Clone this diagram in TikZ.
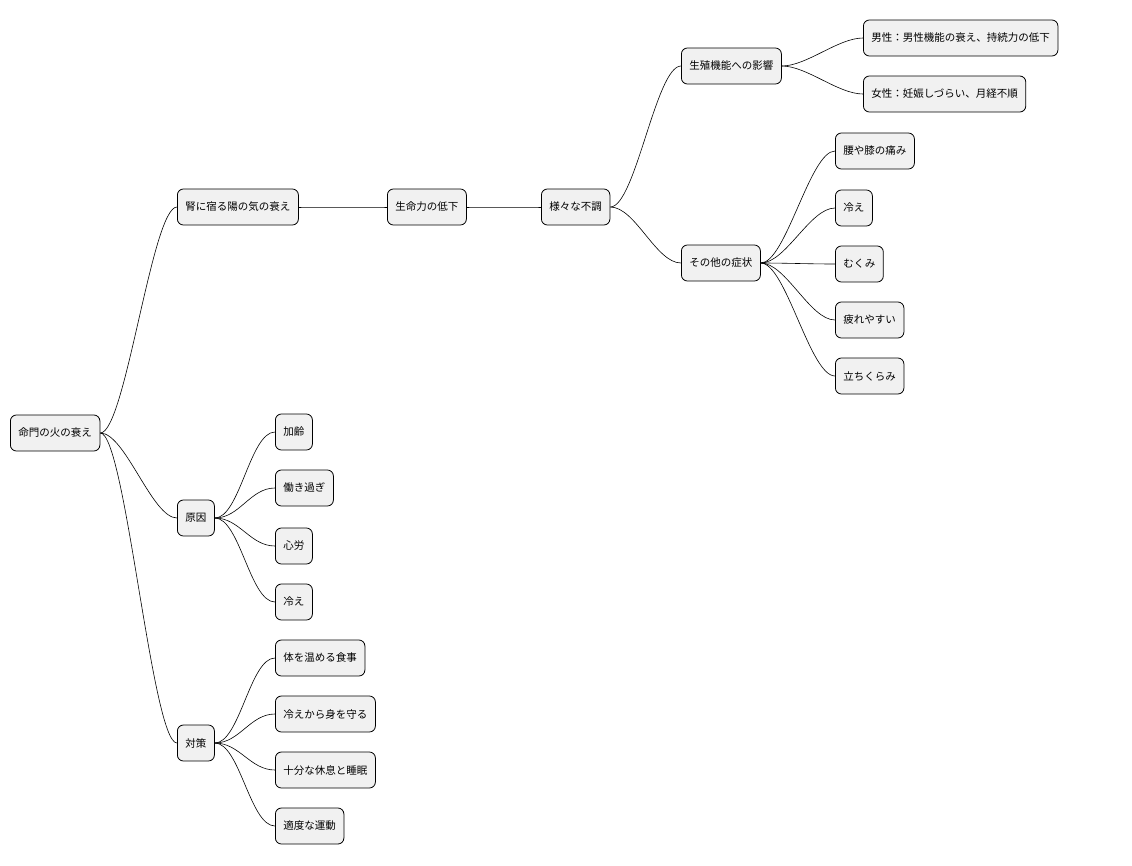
\documentclass[tikz,border=0pt]{standalone}
\usepackage{fontspec}
\newfontfamily\cjk{Noto Sans CJK JP}
\definecolor{boxfill}{HTML}{F1F1F1}
\begin{document}
\begin{tikzpicture}[x=1pt,y=-1pt,
  box/.style={draw=black,line width=0.8pt,fill=boxfill,rounded corners=6pt,font=\cjk\fontsize{10.5}{12}\selectfont,minimum height=36pt,inner xsep=8pt,anchor=west},
  conn/.style={line width=0.6pt}]
\useasboundingbox (0,0) rectangle (1132,865);
\node[box] (root) at (10,433) {命門の火の衰え};
\node[box] (jin) at (177,207) {腎に宿る陽の気の衰え};
\node[box] (sei) at (387,207) {生命力の低下};
\node[box] (sama) at (541,207) {様々な不調};
\node[box] (seisyoku) at (681,66) {生殖機能への影響};
\node[box] (male) at (863,38) {男性：男性機能の衰え、持続力の低下};
\node[box] (female) at (863,94) {女性：妊娠しづらい、月経不順};
\node[box] (other) at (681,263) {その他の症状};
\node[box] (o1) at (835,151) {腰や膝の痛み};
\node[box] (o2) at (835,208) {冷え};
\node[box] (o3) at (835,264) {むくみ};
\node[box] (o4) at (835,320) {疲れやすい};
\node[box] (o5) at (835,376) {立ちくらみ};
\node[box] (gen) at (177,518) {原因};
\node[box] (g1) at (275,432) {加齢};
\node[box] (g2) at (275,488) {働き過ぎ};
\node[box] (g3) at (275,546) {心労};
\node[box] (g4) at (275,602) {冷え};
\node[box] (tai) at (177,743) {対策};
\node[box] (t1) at (275,658) {体を温める食事};
\node[box] (t2) at (275,714) {冷えから身を守る};
\node[box] (t3) at (275,770) {十分な休息と睡眠};
\node[box] (t4) at (275,826) {適度な運動};
\foreach \a/\b in {root/jin,root/gen,root/tai,jin/sei,sei/sama,sama/seisyoku,sama/other,
  seisyoku/male,seisyoku/female,other/o1,other/o2,other/o3,other/o4,other/o5,
  gen/g1,gen/g2,gen/g3,gen/g4,tai/t1,tai/t2,tai/t3,tai/t4}
  \draw[conn] (\a.east) .. controls +(25,0) and +(-25,0) .. (\b.west);
\end{tikzpicture}
\end{document}
